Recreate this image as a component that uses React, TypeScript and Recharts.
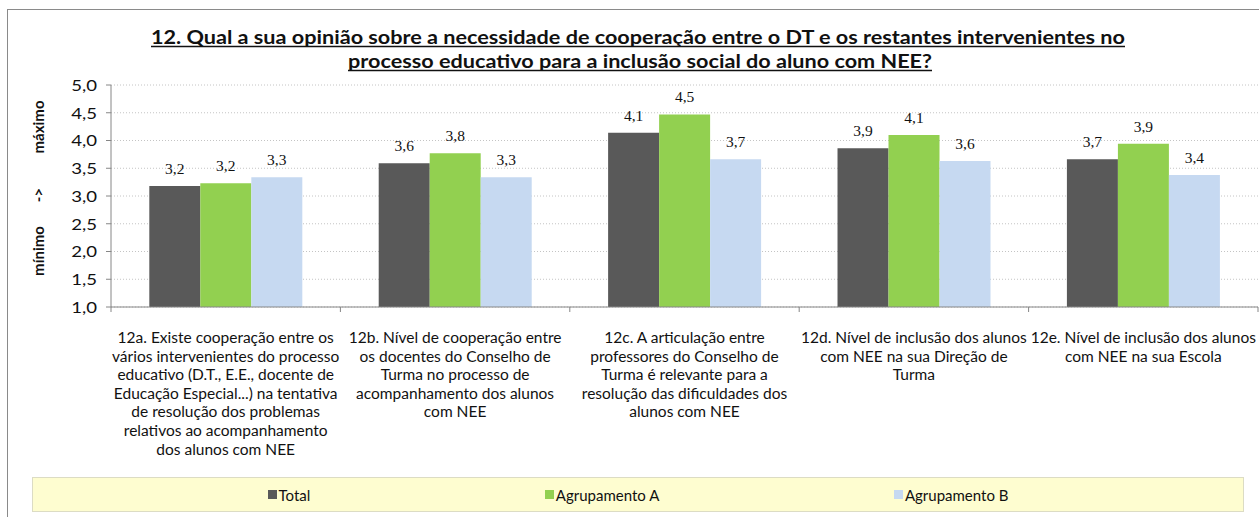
import { BarChart, Bar, XAxis, YAxis, CartesianGrid, LabelList, Legend } from "recharts";

// chart data
const categories = [
  "12a. Existe cooperação entre os\nvários intervenientes do processo\neducativo (D.T., E.E.,  docente de\nEducação Especial...) na tentativa\nde resolução dos problemas\nrelativos ao acompanhamento\ndos alunos com NEE",
  "12b.  Nível de cooperação entre\nos docentes do Conselho de\nTurma no processo de\nacompanhamento dos alunos\ncom NEE",
  "12c. A articulação entre\nprofessores do Conselho de\nTurma é relevante para a\nresolução das dificuldades dos\nalunos com NEE",
  "12d. Nível de inclusão dos alunos\ncom NEE na sua Direção de\nTurma",
  "12e. Nível de inclusão dos alunos\ncom NEE na sua Escola",
];
const seriesNames = ["Total", "Agrupamento A", "Agrupamento B"];
const totalValues = [3.18, 3.59, 4.14, 3.86, 3.66];
const groupAValues = [3.23, 3.77, 4.47, 4.1, 3.94];
const groupBValues = [3.34, 3.34, 3.66, 3.63, 3.38];
const yTicks = [1, 1.5, 2, 2.5, 3, 3.5, 4, 4.5, 5];
const titleLines = [
  "12. Qual a sua opinião sobre a necessidade de cooperação entre o DT e os restantes intervenientes no",
  "processo educativo para a inclusão social do aluno com NEE?",
];

// layout
const W = 1259;
const H = 517;
const Y_AXIS_W = 111;
const RIGHT = 1;
const PLOT_W = W - Y_AXIS_W - RIGHT;
const BAND = PLOT_W / categories.length;
const AXIS = "#868686";
const FONT = "Lato, 'Open Sans', sans-serif";

const data = categories.map((name, i) => ({
  name,
  total: totalValues[i],
  a: groupAValues[i],
  b: groupBValues[i],
}));

const comma = (v: number | string) => Number(v).toFixed(1).replace(".", ",");

function CategoryTick(props: any) {
  const { x, y, payload, index } = props;
  const lines = String(payload.value).split("\n");
  return (
    <g>
      <line x1={x - BAND / 2} x2={x - BAND / 2} y1={y} y2={y + 5} stroke={AXIS} />
      {index === categories.length - 1 && (
        <line x1={x + BAND / 2} x2={x + BAND / 2} y1={y} y2={y + 5} stroke={AXIS} />
      )}
      <text x={x} y={y + 36} textAnchor="middle" fill="#111" fontSize={15.5} fontFamily={FONT}>
        {lines.map((l, i) => (
          <tspan key={i} x={x} dy={i === 0 ? 0 : 18.6}>{l}</tspan>
        ))}
      </text>
    </g>
  );
}

function ValueTick(props: any) {
  const { x, y, payload } = props;
  return (
    <text transform={`translate(${x},${y}) scale(1.2,1)`} textAnchor="end" dominantBaseline="central"
      fill="#111" fontSize={15.5} fontFamily={FONT}>
      {comma(payload.value)}
    </text>
  );
}

function LegendBox(props: any) {
  const items = [...(props.payload || [])].sort(
    (p: any, q: any) => seriesNames.indexOf(p.value) - seriesNames.indexOf(q.value)
  );
  return (
    <div style={{
      width: "100%", height: "100%", boxSizing: "border-box",
      background: "#fefdd0", border: "1px solid #dcdcc4",
      display: "flex", justifyContent: "space-evenly", alignItems: "center",
      fontFamily: FONT, fontSize: 15, color: "#111",
    }}>
      {items.map((it: any) => (
        <div key={it.value} style={{ display: "flex", alignItems: "center" }}>
          <span style={{ width: 9, height: 9, background: it.color, marginRight: 2, display: "inline-block" }} />
          <span>{it.value}</span>
        </div>
      ))}
    </div>
  );
}

const labelStyle = { fill: "#111", fontSize: 15.5, fontFamily: "'Liberation Serif', serif" };

export default function App() {
  return (
    <div style={{ position: "absolute", left: 0, top: 0, width: W, height: H, background: "#fff", fontFamily: FONT, overflow: "hidden" }}>
      <div style={{ position: "absolute", left: 7, top: 9, width: W, height: H, borderTop: "1px solid #8a8a8a", borderLeft: "1px solid #8a8a8a" }} />
      <BarChart width={W} height={H} data={data} margin={{ top: 85, right: RIGHT, left: 0, bottom: 0 }}
        barCategoryGap="16.7%" barGap={0}>
        <CartesianGrid vertical={false} stroke="#c4c4c4" strokeDasharray="1 2" />
        <XAxis dataKey="name" interval={0} height={H - 307} tickLine={false} tickSize={0} tickMargin={0}
          axisLine={{ stroke: AXIS }} tick={(p: any) => <CategoryTick {...p} />} />
        <YAxis type="number" domain={[1, 5]} ticks={yTicks} interval={0} width={Y_AXIS_W}
          tickSize={5} tickMargin={9}
          axisLine={{ stroke: AXIS }} tickLine={{ stroke: AXIS }}
          tick={(p: any) => <ValueTick {...p} />} />
        <Legend layout="horizontal" verticalAlign="middle" width={1212} height={35}
          wrapperStyle={{ left: 32, top: 477, width: 1212, height: 35 }} content={(p: any) => <LegendBox {...p} />} />
        <Bar dataKey="total" name={seriesNames[0]} fill="#595959" isAnimationActive={false}>
          <LabelList dataKey="total" position="top" offset={12} formatter={comma} style={labelStyle} />
        </Bar>
        <Bar dataKey="a" name={seriesNames[1]} fill="#92d050" isAnimationActive={false}>
          <LabelList dataKey="a" position="top" offset={12} formatter={comma} style={labelStyle} />
        </Bar>
        <Bar dataKey="b" name={seriesNames[2]} fill="#c6d9f1" isAnimationActive={false}>
          <LabelList dataKey="b" position="top" offset={12} formatter={comma} style={labelStyle} />
        </Bar>
      </BarChart>
      <svg width={W} height={H} style={{ position: "absolute", left: 0, top: 0, pointerEvents: "none" }}>
        <g fontFamily={FONT} fontWeight="bold" fill="#111">
          <text x={638} y={43.5} fontSize={19.5} textAnchor="middle" textLength={974} lengthAdjust="spacingAndGlyphs">{titleLines[0]}</text>
          <line x1={638 - 487} x2={638 + 487} y1={46.5} y2={46.5} stroke="#111" strokeWidth={1.5} />
          <text x={640} y={67.5} fontSize={19.5} textAnchor="middle" textLength={584} lengthAdjust="spacingAndGlyphs">{titleLines[1]}</text>
          <line x1={640 - 292} x2={640 + 292} y1={70.5} y2={70.5} stroke="#111" strokeWidth={1.5} />
          <g fontSize={15}>
            <text transform="translate(38,251) rotate(-90)" textAnchor="middle" dominantBaseline="central">mínimo</text>
            <text transform="translate(38,195) rotate(-90)" textAnchor="middle" dominantBaseline="central">-&gt;</text>
            <text transform="translate(38,127) rotate(-90)" textAnchor="middle" dominantBaseline="central">máximo</text>
          </g>
        </g>
      </svg>
    </div>
  );
}
